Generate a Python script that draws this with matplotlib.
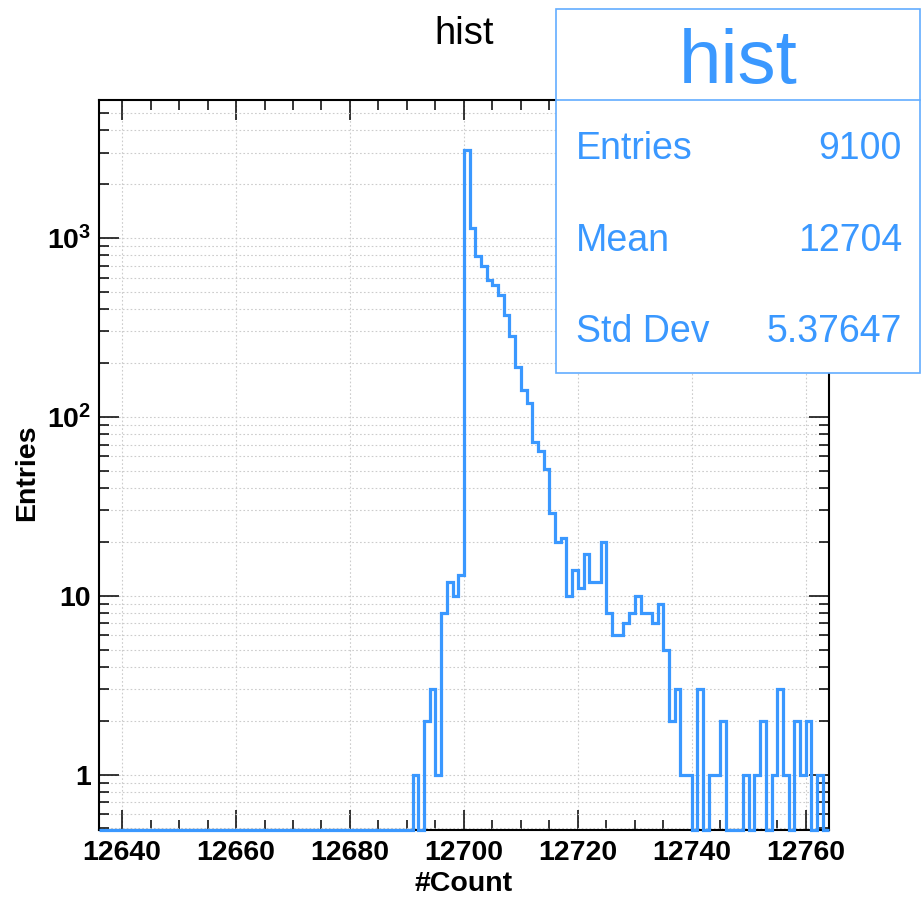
import numpy as np
import matplotlib
matplotlib.use('Agg')
import matplotlib.pyplot as plt
from matplotlib.patches import Rectangle
from matplotlib.lines import Line2D
from matplotlib.ticker import MultipleLocator, FixedLocator, FixedFormatter, LogLocator, NullFormatter

plt.rcParams['font.family'] = ['Liberation Sans', 'DejaVu Sans']
plt.rcParams['font.weight'] = 'bold'
plt.rcParams['mathtext.fontset'] = 'custom'
plt.rcParams['mathtext.bf'] = 'Liberation Sans:bold'
plt.rcParams['mathtext.rm'] = 'Liberation Sans:bold'

# ================= data =================
x_min, x_max = 12636, 12764
first_bin = 12691
# bin contents from 12691 up to 12763 (1 unit bins), everything below is empty
counts_filled = [1, 0, 2, 3, 1, 8, 12, 10, 13,
                 3090, 1137, 793, 695, 578, 542, 478, 370,
                 282, 191, 141, 120, 72,
                 64, 51, 29, 20, 21, 10, 14, 11, 17, 12, 12, 20,
                 8, 6, 6, 7, 8, 10, 8, 8, 7, 9, 5, 2, 3,
                 1, 1, 0, 3, 0, 1, 1, 2, 0, 0, 0, 1, 0, 1, 2, 0, 1, 3, 1, 0, 2, 1, 2, 0, 1, 0]

y_min, y_max = 0.49, 5900
y_ticks = [1, 10, 100, 1000]
y_ticklabels = ['1', '10', r'$\mathbf{10^{2}}$', r'$\mathbf{10^{3}}$']

stat_names = ['Entries', 'Mean', 'Std Dev']
stat_values = ['9100', '12704', '5.37647']

blue = '#3a98ff'
box_edge = '#62adff'

edges = np.arange(x_min, x_max + 1)
counts = np.zeros(len(edges) - 1)
counts[first_bin - x_min:] = counts_filled

# ================= plot =================
W, H = 923, 909
fig = plt.figure(figsize=(W / 100, H / 100), dpi=100)
ax = fig.add_axes([99.3 / W, 1 - 830 / H, (828.5 - 99.3) / W, 730 / H])

# empty bins are drawn on the bottom of the frame, as ROOT does
ax.stairs(np.where(counts > 0, counts, y_min), edges, baseline=None,
          color=blue, lw=2.3, clip_on=False, zorder=3)

ax.set_yscale('log')
ax.set_xlim(x_min, x_max)
ax.set_ylim(y_min, y_max)

ax.xaxis.set_major_locator(MultipleLocator(20))
ax.xaxis.set_minor_locator(MultipleLocator(5))
ax.yaxis.set_major_locator(FixedLocator(y_ticks))
ax.yaxis.set_major_formatter(FixedFormatter(y_ticklabels))
ax.yaxis.set_minor_locator(LogLocator(base=10, subs=np.arange(2, 10)))
ax.yaxis.set_minor_formatter(NullFormatter())

ax.tick_params(which='both', direction='in', top=True, right=True, width=1.1, labelsize=20.5)
ax.tick_params(which='major', length=14.5)
ax.tick_params(which='minor', length=7.5)
ax.tick_params(axis='x', pad=7)
ax.tick_params(axis='y', pad=6)

ax.grid(True, axis='x', which='major', color='#cccccc', lw=0.8, ls=(0, (1.5, 2)))
ax.grid(True, axis='y', which='both', color='#cccccc', lw=0.8, ls=(0, (1.5, 2)))
ax.set_axisbelow(True)

for s in ax.spines.values():
    s.set_linewidth(1.5)

ax.set_xlabel('#Count', fontsize=20.5, fontweight='bold')
ax.xaxis.label.set_va('baseline')
ax.xaxis.set_label_coords(0.5, -(890.7 - 830) / 730)
ax.set_ylabel('Entries', fontsize=20.5, fontweight='bold')
ax.yaxis.set_label_coords(-(99.3 - 40) / 729, 0.49)

ax.set_title('hist', fontsize=27.5, fontweight='normal', va='baseline', y=(830 - 52.7) / 730)

# ================= stat box =================
box_l, box_r = 555.5 / W, 920 / W
box_b, box_t = 1 - 373 / H, 1 - 9 / H
sep = 1 - 99.5 / H
fig.add_artist(Rectangle((box_l, box_b), box_r - box_l, box_t - box_b, transform=fig.transFigure,
                         facecolor='white', edgecolor=box_edge, lw=1.2, zorder=5))
fig.add_artist(Line2D([box_l, box_r], [sep, sep], transform=fig.transFigure,
                      color=box_edge, lw=1.2, zorder=6))
fig.text(738 / W, 1 - 82.7 / H, 'hist', fontsize=55, fontweight='normal', color=blue,
         ha='center', va='baseline', zorder=7)

row_base = [159.3, 250.7, 342.3]
for name, val, yb in zip(stat_names, stat_values, row_base):
    fig.text(576 / W, 1 - yb / H, name, fontsize=27, fontweight='normal', color=blue,
             ha='left', va='baseline', zorder=7)
    fig.text(902 / W, 1 - yb / H, val, fontsize=27, fontweight='normal', color=blue,
             ha='right', va='baseline', zorder=7)

fig.savefig('out.png', dpi=100)
